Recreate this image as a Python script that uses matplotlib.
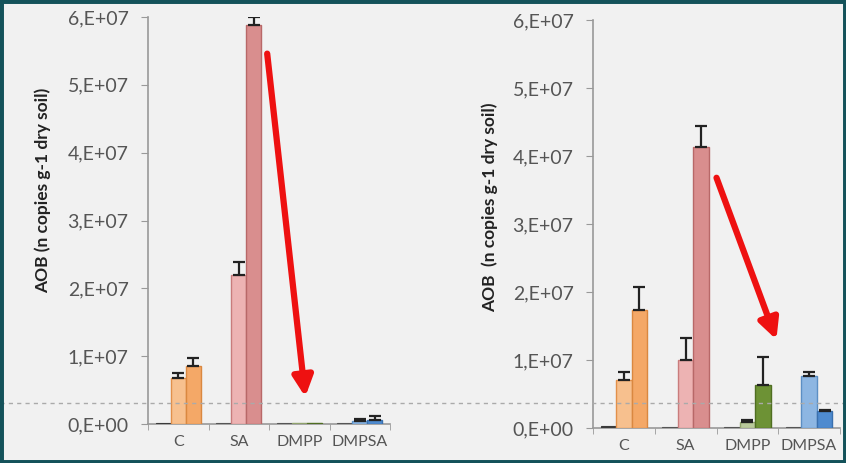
import matplotlib
matplotlib.use("Agg")
import matplotlib.pyplot as plt
from matplotlib.lines import Line2D
from matplotlib.patches import Rectangle
import numpy as np

categories = ["C", "SA", "DMPP", "DMPSA"]

# Left panel: three series per category (values and upper errors)
left_s1 = [2.0e5, 1.0e5, 1.0e5, 2.0e5]
left_s2 = [6.8e6, 2.19e7, 1.5e5, 5.0e5]
left_s3 = [8.6e6, 5.88e7, 2.0e5, 6.5e5]
left_e2 = [0.7e6, 2.0e6, 0, 3.0e5]
left_e3 = [1.1e6, 1.2e6, 0, 5.0e5]

# Right panel
right_s1 = [3.5e5, 1.0e5, 1.0e5, 1.0e5]
right_s2 = [7.0e6, 1.0e7, 9.0e5, 7.6e6]
right_s3 = [1.73e7, 4.13e7, 6.3e6, 2.5e6]
right_e2 = [1.2e6, 3.3e6, 3.0e5, 6.0e5]
right_e3 = [3.4e6, 3.1e6, 4.2e6, 2.0e5]

yticks = [0, 1e7, 2e7, 3e7, 4e7, 5e7, 6e7]
ytick_labels = ["0,E+00", "1,E+07", "2,E+07", "3,E+07", "4,E+07", "5,E+07", "6,E+07"]
left_ylabel = "AOB (n copies g-1 dry soil)"
right_ylabel = "AOB  (n copies g-1 dry soil)"

# colours per category
fills2 = ["#F7C08E", "#EDB3B3", "#B9C99B", "#8DB6E2"]
fills3 = ["#F4A867", "#D98E8E", "#6D9235", "#4F8BCF"]
edges2 = ["#E2904A", "#C97C7C", "#8FA26C", "#5C8FC4"]
edges3 = ["#DA8840", "#B86868", "#4F6E22", "#3A70AE"]
dark1 = ["#3A3A3A", "#555555", "#555555", "#555555"]

# reference line and arrows (annotation positions in data units)
ref_level = 3.1e6
left_arrow = ((1.47, 5.46e7), (2.10, 0.40e7))
right_arrow = ((1.50, 3.68e7), (2.47, 1.30e7))

W, H = 846, 463
fig = plt.figure(figsize=(W / 100, H / 100), dpi=100)
fig.patch.set_facecolor("#F1F1F1")

font = ["Lato", "DejaVu Sans"]

def draw(ax, s1, s2, s3, e2, e3, arrow, ylabel, label_xy):
    x = np.arange(len(categories))
    w = 0.25
    for i in range(len(categories)):
        ax.bar(x[i] - w, s1[i], w, color=dark1[i], edgecolor=dark1[i], linewidth=0.8, zorder=3)
        ax.bar(x[i], s2[i], w, color=fills2[i], edgecolor=edges2[i], linewidth=1.0, zorder=3)
        ax.bar(x[i] + w, s3[i], w, color=fills3[i], edgecolor=edges3[i], linewidth=1.0, zorder=3)
        if e2[i] > 0:
            ax.errorbar(x[i], s2[i], yerr=[[0], [e2[i]]], fmt="none", ecolor="#222222",
                        elinewidth=1.6, capsize=4, capthick=1.6, zorder=4)
        if e3[i] > 0:
            ax.errorbar(x[i] + w, s3[i], yerr=[[0], [e3[i]]], fmt="none", ecolor="#222222",
                        elinewidth=1.6, capsize=4, capthick=1.6, zorder=4)
    ax.set_xlim(-0.5, len(categories) - 0.5)
    ax.set_ylim(0, 6e7)
    ax.set_facecolor("none")
    ax.set_yticks(yticks)
    ax.set_yticklabels(ytick_labels, family=font, fontsize=14, color="#555555")
    ax.set_xticks(x)
    ax.set_xticklabels(categories, family=font, fontsize=11.5, color="#555555")
    ax.tick_params(axis="x", length=0, pad=8)
    ax.set_xticks(np.arange(len(categories) + 1) - 0.5, minor=True)
    ax.tick_params(axis="x", which="minor", length=4, color="#999999")
    ax.tick_params(axis="y", length=5, color="#999999", pad=9)
    for s in ["top", "right"]:
        ax.spines[s].set_visible(False)
    for s in ["left", "bottom"]:
        ax.spines[s].set_color("#999999")
        ax.spines[s].set_linewidth(1.2)
    ax.set_ylabel(ylabel, family=font, fontsize=12.5, fontweight="bold", color="#222222")
    ax.yaxis.set_label_coords(*label_xy)
    (x0, y0), (x1, y1) = arrow
    ax.annotate("", xy=(x1, y1), xytext=(x0, y0),
                arrowprops=dict(arrowstyle="-|>,head_length=1.2,head_width=0.6",
                                color="#EE1111", lw=4.5, shrinkA=0, shrinkB=0),
                zorder=5)

ax1 = fig.add_axes([148 / W, 1 - 424 / H, 242 / W, 407 / H])
draw(ax1, left_s1, left_s2, left_s3, left_e2, left_e3, left_arrow,
     left_ylabel, (-0.40, 0.575))
ax2 = fig.add_axes([593 / W, 1 - 428 / H, 247 / W, 408 / H])
draw(ax2, right_s1, right_s2, right_s3, right_e2, right_e3, right_arrow,
     right_ylabel, (-0.385, 0.54))

# dashed reference line across the whole figure
yfig = fig.transFigure.inverted().transform(ax1.transData.transform((0, ref_level)))[1]
fig.add_artist(Line2D([0, 1], [yfig, yfig], transform=fig.transFigure,
                      color="#AAAAAA", lw=1.0, ls=(0, (3, 3)), zorder=1))

# frame border
fig.add_artist(Rectangle((0, 0), 1, 1, transform=fig.transFigure, fill=False,
                         edgecolor="#14525A", lw=5))

fig.savefig("out.png", dpi=100)
